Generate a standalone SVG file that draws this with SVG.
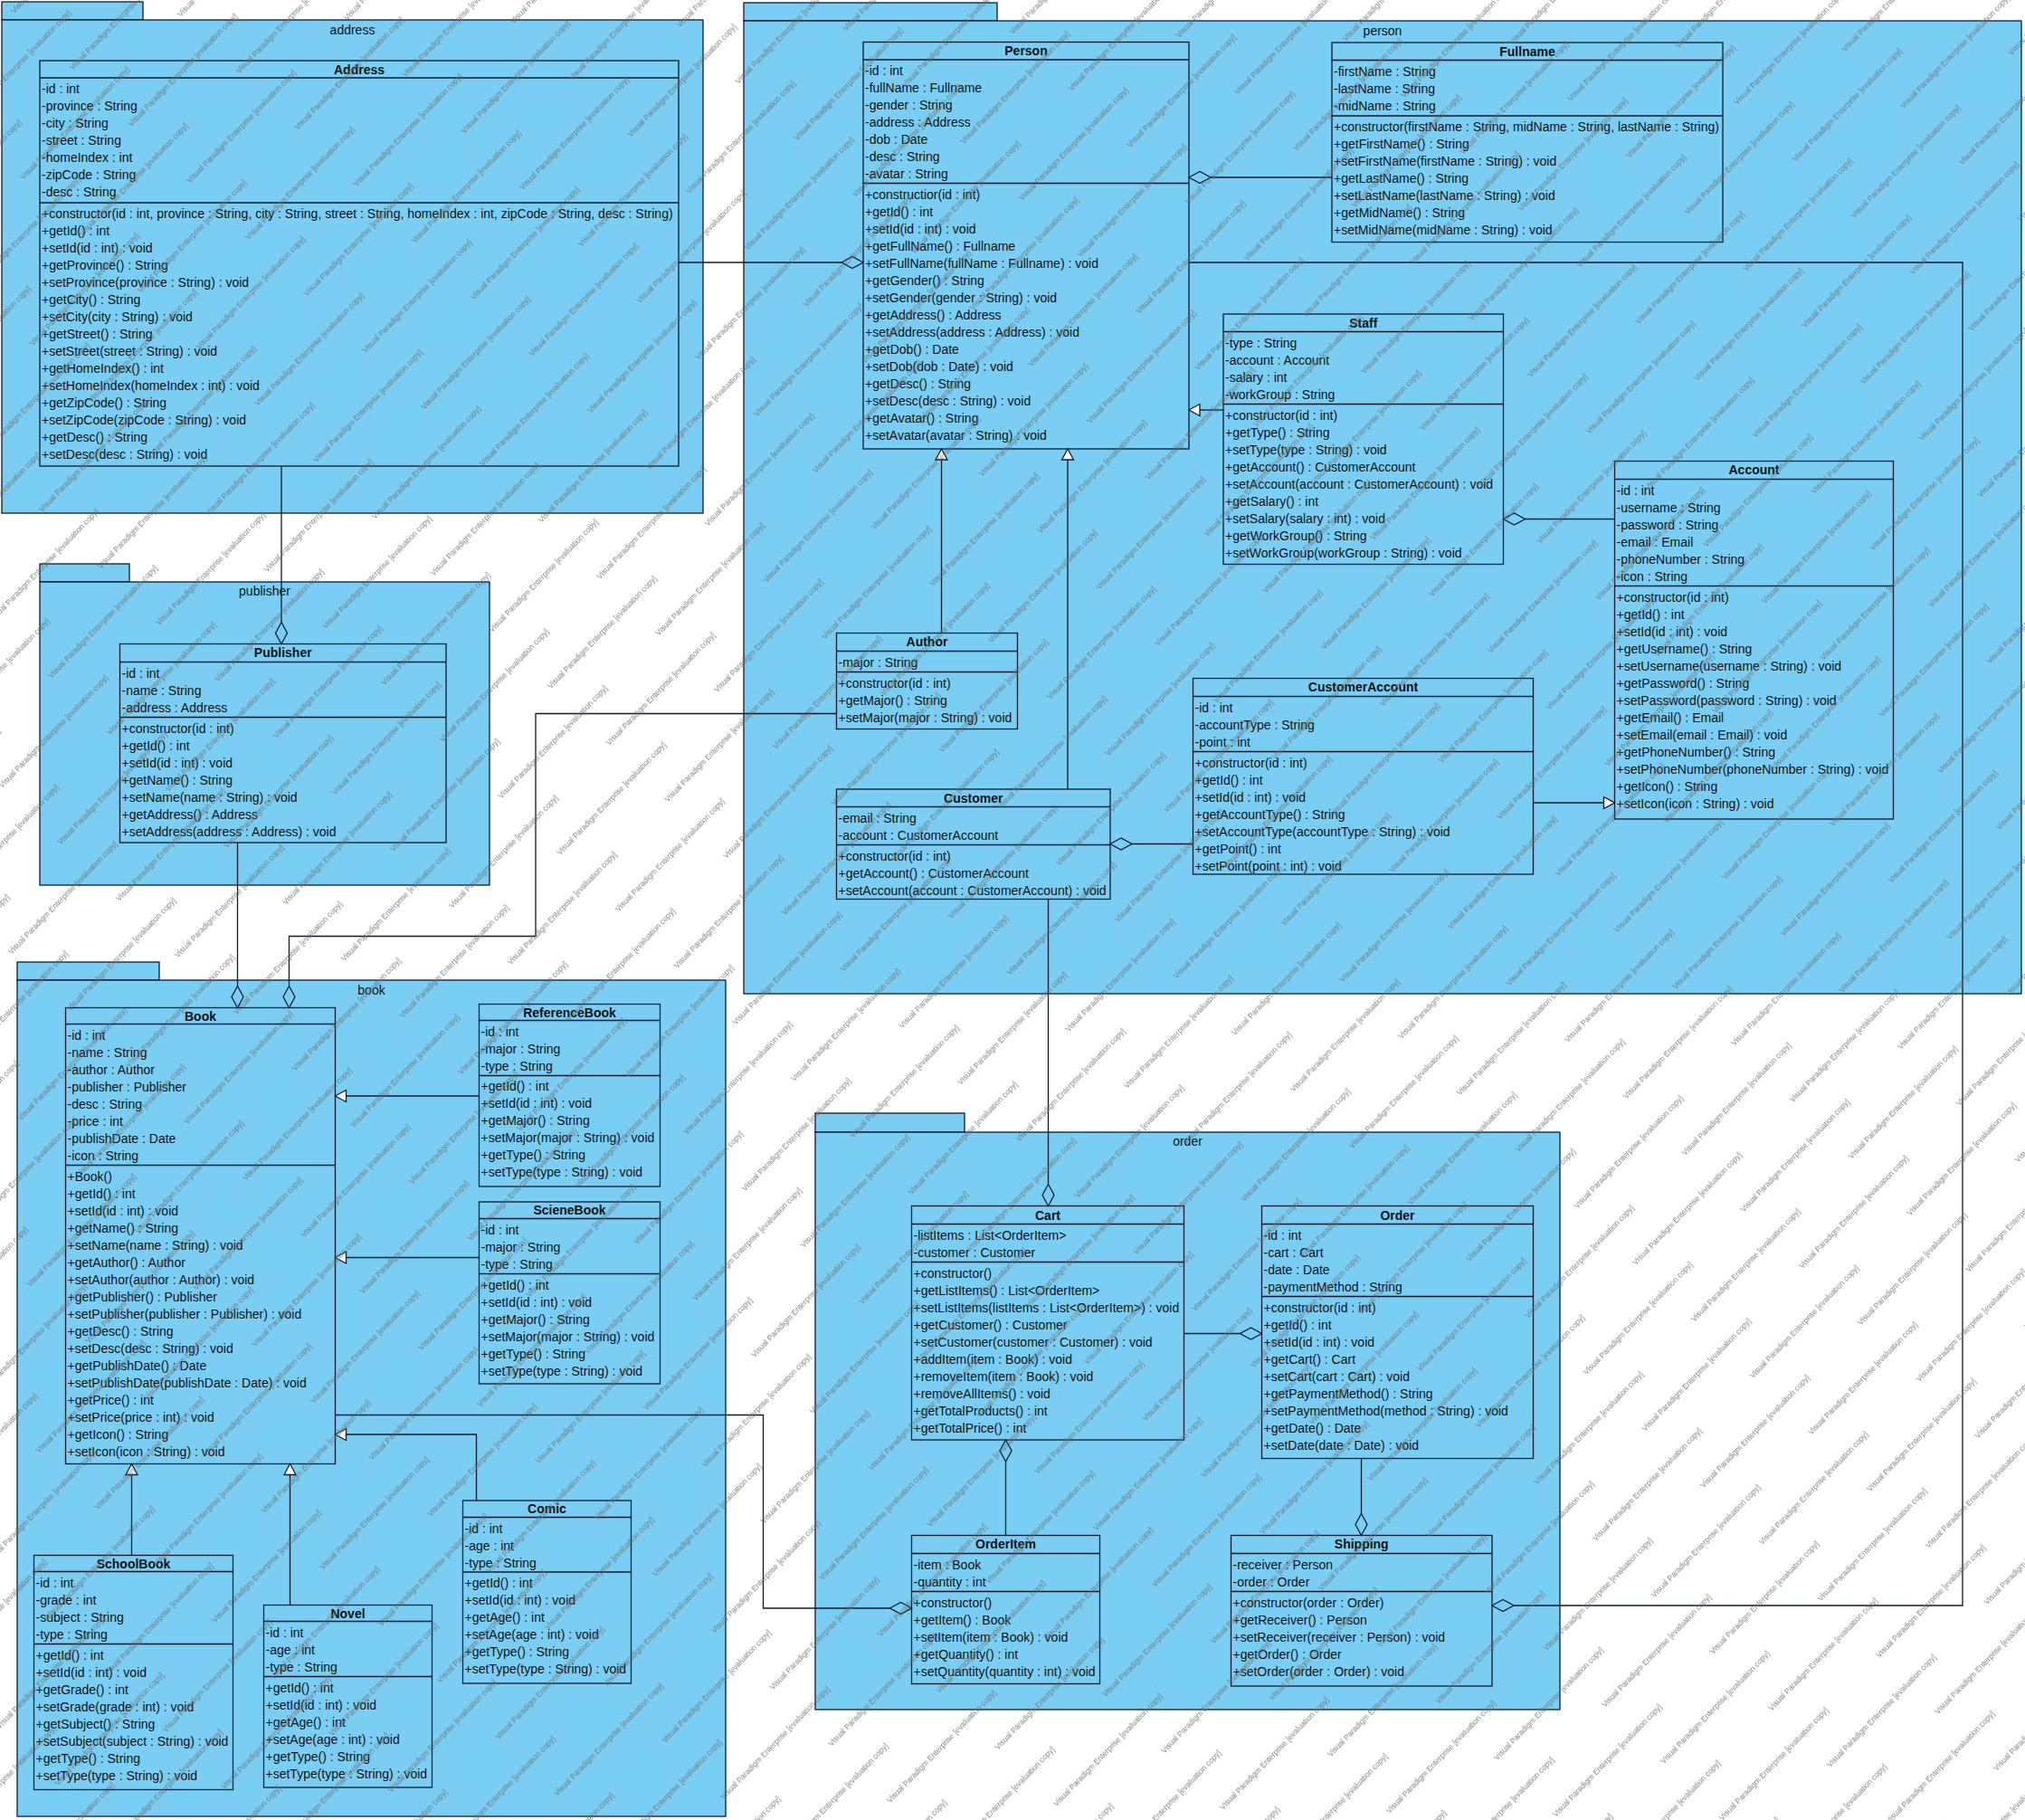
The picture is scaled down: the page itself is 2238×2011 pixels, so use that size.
<svg xmlns="http://www.w3.org/2000/svg" width="2238" height="2011" viewBox="0 0 2238 2011">
<defs>
<style>
.pkg rect{fill:#7ACEF4;stroke:#101a2c;stroke-width:1.3}
.pkg text{font-family:"Liberation Sans",Arial,sans-serif;font-size:14px;fill:#111;text-anchor:middle}
.cls rect{fill:#7ACEF4;stroke:#101a2c;stroke-width:1.3}
.cls line{stroke:#101a2c;stroke-width:1.3}
.name{font-family:"Liberation Sans",Arial,sans-serif;font-size:14px;font-weight:bold;fill:#111;text-anchor:middle}
.mem{font-family:"Liberation Sans",Arial,sans-serif;font-size:14px;fill:#111}
.conn path{fill:none;stroke:#101a2c;stroke-width:1.3}
.conn .dia{fill:none;stroke:#101a2c;stroke-width:1.3}
.conn .tri{fill:#fff;stroke:#101a2c;stroke-width:1.3}
.wm text{font-family:"Liberation Sans",Arial,sans-serif;font-size:8.5px;fill:#6a6a6a}
</style>
<pattern id="wm" class="wm" patternUnits="userSpaceOnUse" width="250" height="90" patternTransform="rotate(-46)">
<text x="0" y="22">Visual Paradigm Enterprise [evaluation copy]</text>
<text x="125" y="67">Visual Paradigm Enterprise [evaluation copy]</text>
<text x="-125" y="67">Visual Paradigm Enterprise [evaluation copy]</text>
</pattern>
</defs>
<rect x="0" y="0" width="2238" height="2011" fill="#fff"/>

<!-- packages -->
<g id="pkg-address" class="pkg">
<rect x="2" y="2" width="156" height="20"/>
<rect x="2" y="22" width="775" height="545"/>
<text x="389.5" y="38">address</text>
</g>
<g id="pkg-person" class="pkg">
<rect x="822" y="3" width="280" height="20"/>
<rect x="822" y="23" width="1412" height="1075"/>
<text x="1528" y="38.5">person</text>
</g>
<g id="pkg-publisher" class="pkg">
<rect x="44" y="623" width="99" height="20"/>
<rect x="44" y="643" width="497" height="335"/>
<text x="292.5" y="658">publisher</text>
</g>
<g id="pkg-book" class="pkg">
<rect x="19" y="1063" width="157" height="20"/>
<rect x="19" y="1083" width="783" height="924"/>
<text x="410.5" y="1098.5">book</text>
</g>
<g id="pkg-order" class="pkg">
<rect x="901" y="1230" width="165" height="21"/>
<rect x="901" y="1251" width="823" height="638"/>
<text x="1312.5" y="1266">order</text>
</g>

<!-- classes -->
<g id="cls-address" class="cls">
<rect x="44" y="67" width="706" height="448"/>
<line x1="44" y1="86" x2="750" y2="86"/>
<line x1="44" y1="224" x2="750" y2="224"/>
<text class="name" x="397" y="81.5">Address</text>
<text class="mem" y="103"><tspan x="46">-id : int</tspan><tspan x="46" dy="19">-province : String</tspan><tspan x="46" dy="19">-city : String</tspan><tspan x="46" dy="19">-street : String</tspan><tspan x="46" dy="19">-homeIndex : int</tspan><tspan x="46" dy="19">-zipCode : String</tspan><tspan x="46" dy="19">-desc : String</tspan></text>
<text class="mem" y="241"><tspan x="46">+constructor(id : int, province : String, city : String, street : String, homeIndex : int, zipCode : String, desc : String)</tspan><tspan x="46" dy="19">+getId() : int</tspan><tspan x="46" dy="19">+setId(id : int) : void</tspan><tspan x="46" dy="19">+getProvince() : String</tspan><tspan x="46" dy="19">+setProvince(province : String) : void</tspan><tspan x="46" dy="19">+getCity() : String</tspan><tspan x="46" dy="19">+setCity(city : String) : void</tspan><tspan x="46" dy="19">+getStreet() : String</tspan><tspan x="46" dy="19">+setStreet(street : String) : void</tspan><tspan x="46" dy="19">+getHomeIndex() : int</tspan><tspan x="46" dy="19">+setHomeIndex(homeIndex : int) : void</tspan><tspan x="46" dy="19">+getZipCode() : String</tspan><tspan x="46" dy="19">+setZipCode(zipCode : String) : void</tspan><tspan x="46" dy="19">+getDesc() : String</tspan><tspan x="46" dy="19">+setDesc(desc : String) : void</tspan></text>
</g>

<g id="cls-person" class="cls">
<rect x="954" y="46.5" width="360" height="449.5"/>
<line x1="954" y1="66" x2="1314" y2="66"/>
<line x1="954" y1="202.5" x2="1314" y2="202.5"/>
<text class="name" x="1134" y="61">Person</text>
<text class="mem" y="83"><tspan x="956">-id : int</tspan><tspan x="956" dy="19">-fullName : Fullname</tspan><tspan x="956" dy="19">-gender : String</tspan><tspan x="956" dy="19">-address : Address</tspan><tspan x="956" dy="19">-dob : Date</tspan><tspan x="956" dy="19">-desc : String</tspan><tspan x="956" dy="19">-avatar : String</tspan></text>
<text class="mem" y="219.5"><tspan x="956">+constructior(id : int)</tspan><tspan x="956" dy="19">+getId() : int</tspan><tspan x="956" dy="19">+setId(id : int) : void</tspan><tspan x="956" dy="19">+getFullName() : Fullname</tspan><tspan x="956" dy="19">+setFullName(fullName : Fullname) : void</tspan><tspan x="956" dy="19">+getGender() : String</tspan><tspan x="956" dy="19">+setGender(gender : String) : void</tspan><tspan x="956" dy="19">+getAddress() : Address</tspan><tspan x="956" dy="19">+setAddress(address : Address) : void</tspan><tspan x="956" dy="19">+getDob() : Date</tspan><tspan x="956" dy="19">+setDob(dob : Date) : void</tspan><tspan x="956" dy="19">+getDesc() : String</tspan><tspan x="956" dy="19">+setDesc(desc : String) : void</tspan><tspan x="956" dy="19">+getAvatar() : String</tspan><tspan x="956" dy="19">+setAvatar(avatar : String) : void</tspan></text>
</g>

<g id="cls-fullname" class="cls">
<rect x="1472" y="47" width="432" height="220.5"/>
<line x1="1472" y1="66.5" x2="1904" y2="66.5"/>
<line x1="1472" y1="128" x2="1904" y2="128"/>
<text class="name" x="1688" y="61.5">Fullname</text>
<text class="mem" y="83.5"><tspan x="1474">-firstName : String</tspan><tspan x="1474" dy="19">-lastName : String</tspan><tspan x="1474" dy="19">-midName : String</tspan></text>
<text class="mem" y="145"><tspan x="1474">+constructor(firstName : String, midName : String, lastName : String)</tspan><tspan x="1474" dy="19">+getFirstName() : String</tspan><tspan x="1474" dy="19">+setFirstName(firstName : String) : void</tspan><tspan x="1474" dy="19">+getLastName() : String</tspan><tspan x="1474" dy="19">+setLastName(lastName : String) : void</tspan><tspan x="1474" dy="19">+getMidName() : String</tspan><tspan x="1474" dy="19">+setMidName(midName : String) : void</tspan></text>
</g>

<g id="cls-staff" class="cls">
<rect x="1352" y="347" width="309.5" height="276.5"/>
<line x1="1352" y1="366.5" x2="1661.5" y2="366.5"/>
<line x1="1352" y1="446.5" x2="1661.5" y2="446.5"/>
<text class="name" x="1506.75" y="361.5">Staff</text>
<text class="mem" y="383.5"><tspan x="1354">-type : String</tspan><tspan x="1354" dy="19">-account : Account</tspan><tspan x="1354" dy="19">-salary : int</tspan><tspan x="1354" dy="19">-workGroup : String</tspan></text>
<text class="mem" y="463.5"><tspan x="1354">+constructor(id : int)</tspan><tspan x="1354" dy="19">+getType() : String</tspan><tspan x="1354" dy="19">+setType(type : String) : void</tspan><tspan x="1354" dy="19">+getAccount() : CustomerAccount</tspan><tspan x="1354" dy="19">+setAccount(account : CustomerAccount) : void</tspan><tspan x="1354" dy="19">+getSalary() : int</tspan><tspan x="1354" dy="19">+setSalary(salary : int) : void</tspan><tspan x="1354" dy="19">+getWorkGroup() : String</tspan><tspan x="1354" dy="19">+setWorkGroup(workGroup : String) : void</tspan></text>
</g>

<g id="cls-account" class="cls">
<rect x="1784.5" y="509.5" width="308" height="395.5"/>
<line x1="1784.5" y1="529.5" x2="2092.5" y2="529.5"/>
<line x1="1784.5" y1="647.5" x2="2092.5" y2="647.5"/>
<text class="name" x="1938.5" y="524">Account</text>
<text class="mem" y="546.5"><tspan x="1786.5">-id : int</tspan><tspan x="1786.5" dy="19">-username : String</tspan><tspan x="1786.5" dy="19">-password : String</tspan><tspan x="1786.5" dy="19">-email : Email</tspan><tspan x="1786.5" dy="19">-phoneNumber : String</tspan><tspan x="1786.5" dy="19">-icon : String</tspan></text>
<text class="mem" y="664.5"><tspan x="1786.5">+constructor(id : int)</tspan><tspan x="1786.5" dy="19">+getId() : int</tspan><tspan x="1786.5" dy="19">+setId(id : int) : void</tspan><tspan x="1786.5" dy="19">+getUsername() : String</tspan><tspan x="1786.5" dy="19">+setUsername(username : String) : void</tspan><tspan x="1786.5" dy="19">+getPassword() : String</tspan><tspan x="1786.5" dy="19">+setPassword(password : String) : void</tspan><tspan x="1786.5" dy="19">+getEmail() : Email</tspan><tspan x="1786.5" dy="19">+setEmail(email : Email) : void</tspan><tspan x="1786.5" dy="19">+getPhoneNumber() : String</tspan><tspan x="1786.5" dy="19">+setPhoneNumber(phoneNumber : String) : void</tspan><tspan x="1786.5" dy="19">+getIcon() : String</tspan><tspan x="1786.5" dy="19">+setIcon(icon : String) : void</tspan></text>
</g>

<g id="cls-author" class="cls">
<rect x="924.5" y="699.5" width="200" height="106"/>
<line x1="924.5" y1="719.5" x2="1124.5" y2="719.5"/>
<line x1="924.5" y1="742.5" x2="1124.5" y2="742.5"/>
<text class="name" x="1024.5" y="714">Author</text>
<text class="mem" x="926.5" y="736.5">-major : String</text>
<text class="mem" y="759.5"><tspan x="926.5">+constructor(id : int)</tspan><tspan x="926.5" dy="19">+getMajor() : String</tspan><tspan x="926.5" dy="19">+setMajor(major : String) : void</tspan></text>
</g>

<g id="cls-customer" class="cls">
<rect x="924.5" y="872" width="302.5" height="121.5"/>
<line x1="924.5" y1="891.5" x2="1227" y2="891.5"/>
<line x1="924.5" y1="933.5" x2="1227" y2="933.5"/>
<text class="name" x="1075.75" y="886.5">Customer</text>
<text class="mem" y="908.5"><tspan x="926.5">-email : String</tspan><tspan x="926.5" dy="19">-account : CustomerAccount</tspan></text>
<text class="mem" y="950.5"><tspan x="926.5">+constructor(id : int)</tspan><tspan x="926.5" dy="19">+getAccount() : CustomerAccount</tspan><tspan x="926.5" dy="19">+setAccount(account : CustomerAccount) : void</tspan></text>
</g>

<g id="cls-customeraccount" class="cls">
<rect x="1318.5" y="749.5" width="376" height="216.5"/>
<line x1="1318.5" y1="769.5" x2="1694.5" y2="769.5"/>
<line x1="1318.5" y1="830.5" x2="1694.5" y2="830.5"/>
<text class="name" x="1506.5" y="764">CustomerAccount</text>
<text class="mem" y="786.5"><tspan x="1320.5">-id : int</tspan><tspan x="1320.5" dy="19">-accountType : String</tspan><tspan x="1320.5" dy="19">-point : int</tspan></text>
<text class="mem" y="847.5"><tspan x="1320.5">+constructor(id : int)</tspan><tspan x="1320.5" dy="19">+getId() : int</tspan><tspan x="1320.5" dy="19">+setId(id : int) : void</tspan><tspan x="1320.5" dy="19">+getAccountType() : String</tspan><tspan x="1320.5" dy="19">+setAccountType(accountType : String) : void</tspan><tspan x="1320.5" dy="19">+getPoint() : int</tspan><tspan x="1320.5" dy="19">+setPoint(point : int) : void</tspan></text>
</g>

<g id="cls-publisher" class="cls">
<rect x="132.5" y="711.5" width="360.5" height="219.5"/>
<line x1="132.5" y1="731.5" x2="493" y2="731.5"/>
<line x1="132.5" y1="792.5" x2="493" y2="792.5"/>
<text class="name" x="312.75" y="726">Publisher</text>
<text class="mem" y="748.5"><tspan x="134.5">-id : int</tspan><tspan x="134.5" dy="19">-name : String</tspan><tspan x="134.5" dy="19">-address : Address</tspan></text>
<text class="mem" y="809.5"><tspan x="134.5">+constructor(id : int)</tspan><tspan x="134.5" dy="19">+getId() : int</tspan><tspan x="134.5" dy="19">+setId(id : int) : void</tspan><tspan x="134.5" dy="19">+getName() : String</tspan><tspan x="134.5" dy="19">+setName(name : String) : void</tspan><tspan x="134.5" dy="19">+getAddress() : Address</tspan><tspan x="134.5" dy="19">+setAddress(address : Address) : void</tspan></text>
</g>

<g id="cls-book" class="cls">
<rect x="72.5" y="1113.5" width="298" height="504"/>
<line x1="72.5" y1="1131.5" x2="370.5" y2="1131.5"/>
<line x1="72.5" y1="1287.5" x2="370.5" y2="1287.5"/>
<text class="name" x="221.5" y="1127.5">Book</text>
<text class="mem" y="1148.5"><tspan x="74.5">-id : int</tspan><tspan x="74.5" dy="19">-name : String</tspan><tspan x="74.5" dy="19">-author : Author</tspan><tspan x="74.5" dy="19">-publisher : Publisher</tspan><tspan x="74.5" dy="19">-desc : String</tspan><tspan x="74.5" dy="19">-price : int</tspan><tspan x="74.5" dy="19">-publishDate : Date</tspan><tspan x="74.5" dy="19">-icon : String</tspan></text>
<text class="mem" y="1304.5"><tspan x="74.5">+Book()</tspan><tspan x="74.5" dy="19">+getId() : int</tspan><tspan x="74.5" dy="19">+setId(id : int) : void</tspan><tspan x="74.5" dy="19">+getName() : String</tspan><tspan x="74.5" dy="19">+setName(name : String) : void</tspan><tspan x="74.5" dy="19">+getAuthor() : Author</tspan><tspan x="74.5" dy="19">+setAuthor(author : Author) : void</tspan><tspan x="74.5" dy="19">+getPublisher() : Publisher</tspan><tspan x="74.5" dy="19">+setPublisher(publisher : Publisher) : void</tspan><tspan x="74.5" dy="19">+getDesc() : String</tspan><tspan x="74.5" dy="19">+setDesc(desc : String) : void</tspan><tspan x="74.5" dy="19">+getPublishDate() : Date</tspan><tspan x="74.5" dy="19">+setPublishDate(publishDate : Date) : void</tspan><tspan x="74.5" dy="19">+getPrice() : int</tspan><tspan x="74.5" dy="19">+setPrice(price : int) : void</tspan><tspan x="74.5" dy="19">+getIcon() : String</tspan><tspan x="74.5" dy="19">+setIcon(icon : String) : void</tspan></text>
</g>

<g id="cls-referencebook" class="cls">
<rect x="529.5" y="1109.5" width="200" height="201.5"/>
<line x1="529.5" y1="1127.5" x2="729.5" y2="1127.5"/>
<line x1="529.5" y1="1188.5" x2="729.5" y2="1188.5"/>
<text class="name" x="629.5" y="1123.5">ReferenceBook</text>
<text class="mem" y="1144.5"><tspan x="531.5">-id : int</tspan><tspan x="531.5" dy="19">-major : String</tspan><tspan x="531.5" dy="19">-type : String</tspan></text>
<text class="mem" y="1205"><tspan x="531.5">+getId() : int</tspan><tspan x="531.5" dy="19">+setId(id : int) : void</tspan><tspan x="531.5" dy="19">+getMajor() : String</tspan><tspan x="531.5" dy="19">+setMajor(major : String) : void</tspan><tspan x="531.5" dy="19">+getType() : String</tspan><tspan x="531.5" dy="19">+setType(type : String) : void</tspan></text>
</g>

<g id="cls-sciencebook" class="cls">
<rect x="529.5" y="1328" width="200" height="201"/>
<line x1="529.5" y1="1346.5" x2="729.5" y2="1346.5"/>
<line x1="529.5" y1="1407.5" x2="729.5" y2="1407.5"/>
<text class="name" x="629.5" y="1342">ScieneBook</text>
<text class="mem" y="1363.5"><tspan x="531.5">-id : int</tspan><tspan x="531.5" dy="19">-major : String</tspan><tspan x="531.5" dy="19">-type : String</tspan></text>
<text class="mem" y="1424.5"><tspan x="531.5">+getId() : int</tspan><tspan x="531.5" dy="19">+setId(id : int) : void</tspan><tspan x="531.5" dy="19">+getMajor() : String</tspan><tspan x="531.5" dy="19">+setMajor(major : String) : void</tspan><tspan x="531.5" dy="19">+getType() : String</tspan><tspan x="531.5" dy="19">+setType(type : String) : void</tspan></text>
</g>

<g id="cls-comic" class="cls">
<rect x="511.5" y="1658" width="186" height="202"/>
<line x1="511.5" y1="1676.5" x2="697.5" y2="1676.5"/>
<line x1="511.5" y1="1737" x2="697.5" y2="1737"/>
<text class="name" x="604.5" y="1672">Comic</text>
<text class="mem" y="1693.5"><tspan x="513.5">-id : int</tspan><tspan x="513.5" dy="19">-age : int</tspan><tspan x="513.5" dy="19">-type : String</tspan></text>
<text class="mem" y="1754"><tspan x="513.5">+getId() : int</tspan><tspan x="513.5" dy="19">+setId(id : int) : void</tspan><tspan x="513.5" dy="19">+getAge() : int</tspan><tspan x="513.5" dy="19">+setAge(age : int) : void</tspan><tspan x="513.5" dy="19">+getType() : String</tspan><tspan x="513.5" dy="19">+setType(type : String) : void</tspan></text>
</g>

<g id="cls-schoolbook" class="cls">
<rect x="37.5" y="1718.5" width="220" height="259"/>
<line x1="37.5" y1="1736.5" x2="257.5" y2="1736.5"/>
<line x1="37.5" y1="1816.5" x2="257.5" y2="1816.5"/>
<text class="name" x="147.5" y="1733">SchoolBook</text>
<text class="mem" y="1753.5"><tspan x="39.5">-id : int</tspan><tspan x="39.5" dy="19">-grade : int</tspan><tspan x="39.5" dy="19">-subject : String</tspan><tspan x="39.5" dy="19">-type : String</tspan></text>
<text class="mem" y="1833.5"><tspan x="39.5">+getId() : int</tspan><tspan x="39.5" dy="19">+setId(id : int) : void</tspan><tspan x="39.5" dy="19">+getGrade() : int</tspan><tspan x="39.5" dy="19">+setGrade(grade : int) : void</tspan><tspan x="39.5" dy="19">+getSubject() : String</tspan><tspan x="39.5" dy="19">+setSubject(subject : String) : void</tspan><tspan x="39.5" dy="19">+getType() : String</tspan><tspan x="39.5" dy="19">+setType(type : String) : void</tspan></text>
</g>

<g id="cls-novel" class="cls">
<rect x="291.5" y="1773.5" width="186" height="201.5"/>
<line x1="291.5" y1="1791.5" x2="477.5" y2="1791.5"/>
<line x1="291.5" y1="1852.5" x2="477.5" y2="1852.5"/>
<text class="name" x="384.5" y="1788">Novel</text>
<text class="mem" y="1808.5"><tspan x="293.5">-id : int</tspan><tspan x="293.5" dy="19">-age : int</tspan><tspan x="293.5" dy="19">-type : String</tspan></text>
<text class="mem" y="1869.5"><tspan x="293.5">+getId() : int</tspan><tspan x="293.5" dy="19">+setId(id : int) : void</tspan><tspan x="293.5" dy="19">+getAge() : int</tspan><tspan x="293.5" dy="19">+setAge(age : int) : void</tspan><tspan x="293.5" dy="19">+getType() : String</tspan><tspan x="293.5" dy="19">+setType(type : String) : void</tspan></text>
</g>

<g id="cls-cart" class="cls">
<rect x="1007.5" y="1332.5" width="301" height="258.5"/>
<line x1="1007.5" y1="1352.5" x2="1308.5" y2="1352.5"/>
<line x1="1007.5" y1="1394.5" x2="1308.5" y2="1394.5"/>
<text class="name" x="1158" y="1347.5">Cart</text>
<text class="mem" y="1369.5"><tspan x="1009.5">-listItems : List&lt;OrderItem&gt;</tspan><tspan x="1009.5" dy="19">-customer : Customer</tspan></text>
<text class="mem" y="1411.5"><tspan x="1009.5">+constructor()</tspan><tspan x="1009.5" dy="19">+getListItems() : List&lt;OrderItem&gt;</tspan><tspan x="1009.5" dy="19">+setListItems(listItems : List&lt;OrderItem&gt;) : void</tspan><tspan x="1009.5" dy="19">+getCustomer() : Customer</tspan><tspan x="1009.5" dy="19">+setCustomer(customer : Customer) : void</tspan><tspan x="1009.5" dy="19">+addItem(item : Book) : void</tspan><tspan x="1009.5" dy="19">+removeItem(item : Book) : void</tspan><tspan x="1009.5" dy="19">+removeAllItems() : void</tspan><tspan x="1009.5" dy="19">+getTotalProducts() : int</tspan><tspan x="1009.5" dy="19">+getTotalPrice() : int</tspan></text>
</g>

<g id="cls-order" class="cls">
<rect x="1394.5" y="1332.5" width="300" height="279"/>
<line x1="1394.5" y1="1352.5" x2="1694.5" y2="1352.5"/>
<line x1="1394.5" y1="1432.5" x2="1694.5" y2="1432.5"/>
<text class="name" x="1544.5" y="1347.5">Order</text>
<text class="mem" y="1369.5"><tspan x="1396.5">-id : int</tspan><tspan x="1396.5" dy="19">-cart : Cart</tspan><tspan x="1396.5" dy="19">-date : Date</tspan><tspan x="1396.5" dy="19">-paymentMethod : String</tspan></text>
<text class="mem" y="1449.5"><tspan x="1396.5">+constructor(id : int)</tspan><tspan x="1396.5" dy="19">+getId() : int</tspan><tspan x="1396.5" dy="19">+setId(id : int) : void</tspan><tspan x="1396.5" dy="19">+getCart() : Cart</tspan><tspan x="1396.5" dy="19">+setCart(cart : Cart) : void</tspan><tspan x="1396.5" dy="19">+getPaymentMethod() : String</tspan><tspan x="1396.5" dy="19">+setPaymentMethod(method : String) : void</tspan><tspan x="1396.5" dy="19">+getDate() : Date</tspan><tspan x="1396.5" dy="19">+setDate(date : Date) : void</tspan></text>
</g>

<g id="cls-orderitem" class="cls">
<rect x="1007.5" y="1696.5" width="208" height="164"/>
<line x1="1007.5" y1="1716.5" x2="1215.5" y2="1716.5"/>
<line x1="1007.5" y1="1758.5" x2="1215.5" y2="1758.5"/>
<text class="name" x="1111.5" y="1711">OrderItem</text>
<text class="mem" y="1733.5"><tspan x="1009.5">-item : Book</tspan><tspan x="1009.5" dy="19">-quantity : int</tspan></text>
<text class="mem" y="1775.5"><tspan x="1009.5">+constructor()</tspan><tspan x="1009.5" dy="19">+getItem() : Book</tspan><tspan x="1009.5" dy="19">+setItem(item : Book) : void</tspan><tspan x="1009.5" dy="19">+getQuantity() : int</tspan><tspan x="1009.5" dy="19">+setQuantity(quantity : int) : void</tspan></text>
</g>

<g id="cls-shipping" class="cls">
<rect x="1360.5" y="1696.5" width="288.5" height="166.5"/>
<line x1="1360.5" y1="1716.5" x2="1649" y2="1716.5"/>
<line x1="1360.5" y1="1758.5" x2="1649" y2="1758.5"/>
<text class="name" x="1504.75" y="1711">Shipping</text>
<text class="mem" y="1733.5"><tspan x="1362.5">-receiver : Person</tspan><tspan x="1362.5" dy="19">-order : Order</tspan></text>
<text class="mem" y="1775.5"><tspan x="1362.5">+constructor(order : Order)</tspan><tspan x="1362.5" dy="19">+getReceiver() : Person</tspan><tspan x="1362.5" dy="19">+setReceiver(receiver : Person) : void</tspan><tspan x="1362.5" dy="19">+getOrder() : Order</tspan><tspan x="1362.5" dy="19">+setOrder(order : Order) : void</tspan></text>
</g>

<!-- connectors -->
<g id="connectors" class="conn">
<!-- aggregations (hollow diamond at the whole) -->
<path d="M311 515V687.5"/>
<polygon class="dia" points="311,711.5 304.5,699.5 311,687.5 317.5,699.5"/>
<path d="M750 290H930"/>
<polygon class="dia" points="954,290 942,283.5 930,290 942,296.5"/>
<path d="M1338 196H1472"/>
<polygon class="dia" points="1314,196 1326,189.5 1338,196 1326,202.5"/>
<path d="M1314 290H2169V1774H1673"/>
<polygon class="dia" points="1649,1774 1661,1767.5 1673,1774 1661,1780.5"/>
<path d="M1685.5 573.5H1784.5"/>
<polygon class="dia" points="1661.5,573.5 1673.5,567 1685.5,573.5 1673.5,580"/>
<path d="M1251 932.5H1318.5"/>
<polygon class="dia" points="1227,932.5 1239,926 1251,932.5 1239,939"/>
<path d="M1158.5 993.5V1308.5"/>
<polygon class="dia" points="1158.5,1332.5 1152,1320.5 1158.5,1308.5 1165,1320.5"/>
<path d="M262.5 931V1089.5"/>
<polygon class="dia" points="262.5,1113.5 256,1101.5 262.5,1089.5 269,1101.5"/>
<path d="M924.5 788.5H592V1034.5H319.5V1089.5"/>
<polygon class="dia" points="319.5,1113.5 313,1101.5 319.5,1089.5 326,1101.5"/>
<path d="M370.5 1563.5H843.5V1777H983.5"/>
<polygon class="dia" points="1007.5,1777 995.5,1770.5 983.5,1777 995.5,1783.5"/>
<path d="M1308.5 1473.5H1370.5"/>
<polygon class="dia" points="1394.5,1473.5 1382.5,1467 1370.5,1473.5 1382.5,1480"/>
<path d="M1111.5 1615V1696.5"/>
<polygon class="dia" points="1111.5,1591 1118,1603 1111.5,1615 1105,1603"/>
<path d="M1504.5 1611.5V1672.5"/>
<polygon class="dia" points="1504.5,1696.5 1498,1684.5 1504.5,1672.5 1511,1684.5"/>
<!-- generalizations (hollow triangle at the parent) -->
<path d="M1352 453H1326"/>
<polygon class="tri" points="1314,453 1326,446.5 1326,459.5"/>
<path d="M1040.5 699.5V508"/>
<polygon class="tri" points="1040.5,496 1034,508 1047,508"/>
<path d="M1180 872V508"/>
<polygon class="tri" points="1180,496 1173.5,508 1186.5,508"/>
<path d="M1694.5 887H1772.5"/>
<polygon class="tri" points="1784.5,887 1772.5,880.5 1772.5,893.5"/>
<path d="M529.5 1211H382.5"/>
<polygon class="tri" points="370.5,1211 382.5,1204.5 382.5,1217.5"/>
<path d="M529.5 1389.5H382.5"/>
<polygon class="tri" points="370.5,1389.5 382.5,1383 382.5,1396"/>
<path d="M526.5 1658V1585H382.5"/>
<polygon class="tri" points="370.5,1585 382.5,1578.5 382.5,1591.5"/>
<path d="M145.5 1718.5V1629.5"/>
<polygon class="tri" points="145.5,1617.5 139,1629.5 152,1629.5"/>
<path d="M320.5 1773.5V1629.5"/>
<polygon class="tri" points="320.5,1617.5 314,1629.5 327,1629.5"/>
</g>

<!-- evaluation watermark laid over the whole sheet -->
<rect id="watermark" x="0" y="0" width="2238" height="2011" fill="url(#wm)" opacity="0.85" pointer-events="none"/>
</svg>
